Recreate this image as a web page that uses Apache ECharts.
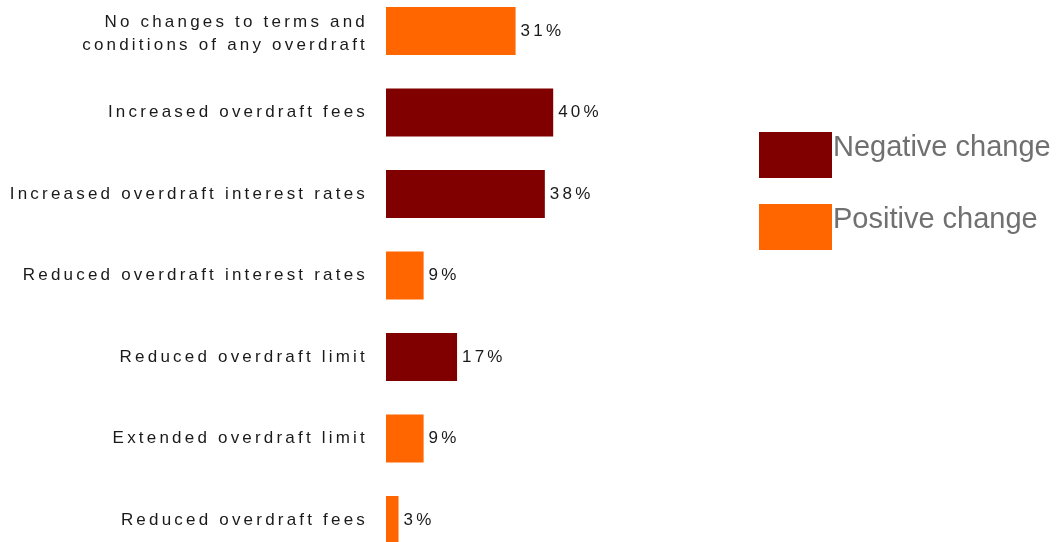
<!DOCTYPE html>
<html>
<head>
<meta charset="utf-8">
<script src="https://cdn.jsdelivr.net/npm/echarts@6/dist/echarts.min.js"></script>
<style>
  html, body { margin: 0; padding: 0; background: #fff; }
  #chart { width: 1064px; height: 542px; }
</style>
</head>
<body>
<div id="chart"></div>
<script>
const categories = [
  'No changes to terms and\nconditions of any overdraft',
  'Increased overdraft fees',
  'Increased overdraft interest rates',
  'Reduced overdraft interest rates',
  'Reduced overdraft limit',
  'Extended overdraft limit',
  'Reduced overdraft fees'
]
const negativeValues = ['-', 40, 38, '-', 17, '-', '-'] // 负面变化
const positiveValues = [31, '-', '-', 9, '-', 9, 3] // 正面变化

// the source draws its axis text letter-spaced; canvas can do it, echarts has no option for it
const fontDesc = Object.getOwnPropertyDescriptor(CanvasRenderingContext2D.prototype, 'font')
Object.defineProperty(CanvasRenderingContext2D.prototype, 'font', {
  get() { return fontDesc.get.call(this) },
  set(v) {
    fontDesc.set.call(this, v)
    if ('letterSpacing' in this) {
      this.letterSpacing = / 17px /.test(' ' + v + ' ') ? '3.2px' : '0px'
    }
  }
})

const labelStyle = {
  show: true,
  position: 'right',
  distance: 5,
  formatter: '{c}%',
  color: '#1a1a1a',
  fontSize: 17,
  fontFamily: 'Liberation Sans'
}

const chart = echarts.init(document.getElementById('chart'))
chart.setOption({
  animation: false,
  grid: { left: 386, right: 469, top: 31, bottom: 22 },
  legend: {
    orient: 'vertical',
    left: 754,
    top: 127,
    itemWidth: 73,
    itemHeight: 46,
    itemGap: 26,
    icon: 'rect',
    selectedMode: false,
    // legend text sits above the swatch centre in the source
    formatter: '{t|{name}}',
    textStyle: {
      rich: {
        t: { color: '#707070', fontSize: 29, fontFamily: 'Liberation Sans', padding: [0, 0, 14, -4] }
      }
    },
    data: ['Negative change', 'Positive change']
  },
  xAxis: {
    type: 'value',
    min: 0,
    max: 50,
    show: false
  },
  yAxis: {
    type: 'category',
    inverse: true,
    boundaryGap: false,
    data: categories,
    axisLine: { show: false },
    axisTick: { show: false },
    splitLine: { show: false },
    axisLabel: {
      margin: 18,
      color: '#1a1a1a',
      fontSize: 17,
      lineHeight: 23,
      fontFamily: 'Liberation Sans',
      formatter(value) {
        const lines = value.split('\n')
        if (lines.length < 2) return value
        // two-line label is drawn a little lower than the bar centre
        return '{a|' + lines[0] + '}\n{b|' + lines[1] + '}'
      },
      rich: {
        a: { fontSize: 17, lineHeight: 23, fontFamily: 'Liberation Sans', color: '#1a1a1a', padding: [6, 0, 0, 0] },
        b: { fontSize: 17, lineHeight: 23, fontFamily: 'Liberation Sans', color: '#1a1a1a', padding: [6, 0, 0, 0] }
      }
    }
  },
  series: [
    {
      name: 'Negative change',
      type: 'bar',
      stack: 'all',
      barWidth: 48,
      itemStyle: { color: '#800000' },
      label: labelStyle,
      data: negativeValues
    },
    {
      name: 'Positive change',
      type: 'bar',
      stack: 'all',
      barWidth: 48,
      itemStyle: { color: '#ff6600' },
      label: labelStyle,
      data: positiveValues
    }
  ]
})
</script>
</body>
</html>
